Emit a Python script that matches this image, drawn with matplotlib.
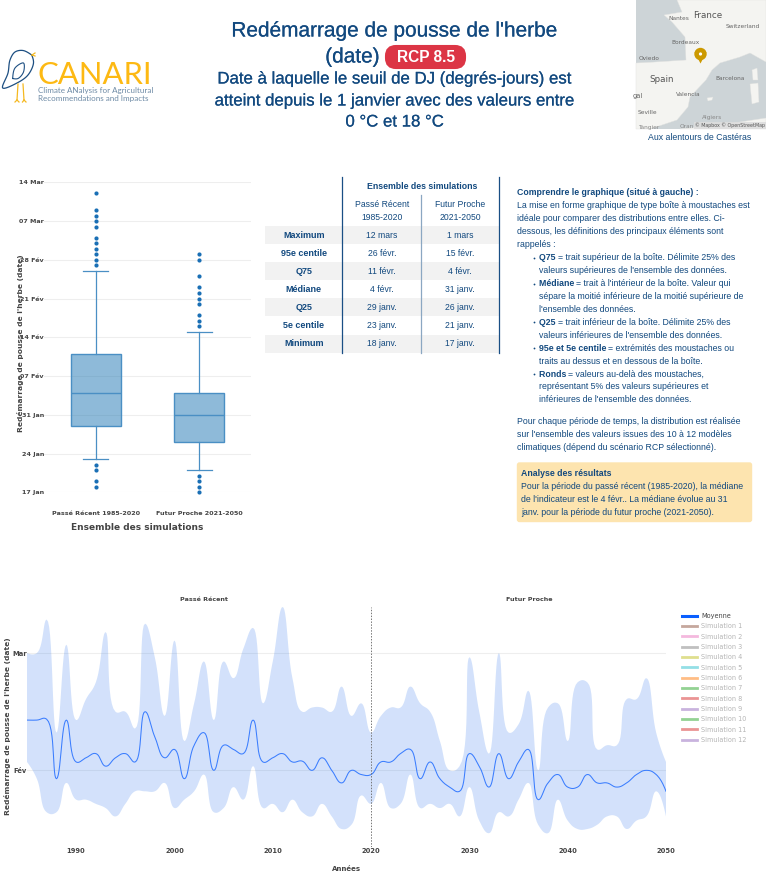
"""Indicator sheet: grass regrowth date, box plot, table, notes and yearly band."""
import numpy as np
import matplotlib
matplotlib.use("Agg")
import matplotlib.pyplot as plt
import matplotlib.patheffects as pe
from matplotlib.patches import FancyBboxPatch, Polygon, Rectangle, Circle
from matplotlib.ticker import FixedLocator, FixedFormatter

W, H = 766, 872
NAVY = "#12497f"
GREY = "#444444"
HTML_FONT = "Liberation Sans"

# box plot, dates as day of year
box_labels = ["Passé Récent 1985-2020", "Futur Proche 2021-2050"]
box_whislo = [23, 21]
box_q1 = [29, 26]
box_med = [35, 31]
box_q3 = [42, 35]
box_whishi = [57, 46]
box_fliers_past = [71, 68, 67, 66, 65, 63, 62, 61, 60, 59, 58, 22, 21, 19, 18]
box_fliers_future = [60, 59, 56, 54, 53, 52, 51, 49, 48, 47, 20, 19, 18, 17]
box_ticks = [17, 24, 31, 38, 45, 52, 59, 66, 73]
box_ticklabels = ["17 Jan", "24 Jan", "31 Jan", "07 Fév", "14 Fév", "21 Fév", "28 Fév", "07 Mar", "14 Mar"]

# table
table_rows = ["Maximum", "95e centile", "Q75", "Médiane", "Q25", "5e centile", "Minimum"]
table_past = ["12 mars", "26 févr.", "11 févr.", "4 févr.", "29 janv.", "23 janv.", "18 janv."]
table_future = ["1 mars", "15 févr.", "4 févr.", "31 janv.", "26 janv.", "21 janv.", "17 janv."]

# yearly series, days counted from 1 February
years = list(range(1985, 2051))
upper_days = [28, 28, 36, 9, 30, 12, 17, 21, 33, 14, 14, 10, 35, 27, 13, 31, 7, 16, 26, 12, 26, 22,
              29, 34, 16, 26, 39, 22, 14, 15, 15, 14, 20, 13, 16, 9, 13, 15, 15, 20, 16, 14, 7, 0,
              1, 27, 14, 4, 28, 9, 11, 19, 0, 15, 16, 7, 21, 21, 5, 6, 6, 17, 17, 22, 9, 2]
lower_days = [2, -2, -10, -10, -3, -7, -7, -8, -9, -11, -8, -5, -5, -5, -3, -9, -7, -5, -1, -10, -9, -4,
              -7, 1, -9, -8, -10, -7, -10, -11, -8, -11, -14, -13, -6, -8, -3, -9, -8, -1, -9, -8, -9, -8,
              -11, -4, -12, -15, -10, -11, -7, -3, -13, -15, -7, -12, -14, -14, -13, -11, -11, -14, -12, -11, -5, -11]
mean_days = [12, 12, 12.2, -2, 12, 2, 3, 4, 1, 3, 4, 2, 14, 8, 3, 5, -2, 6, 9, 0, 6, 5,
             4, 12, 2, 3, 4, 2, 2.2, 0, 3, 0, -3, 0, -1, -1, 2, 2, 4, 5, -2, 2, -2, -4,
             -5, 4, 1, -4, 4, -2, 2, 5, -7, -3, -1, -4, -4, -1, -3, -3, -4, -3, -1, 0, -1, -5]
legend_names = ["Simulation %d" % i for i in range(1, 13)]
legend_colors = ["#c5a79d", "#f4b9de", "#c0c0c0", "#dfdf8e", "#94dfe6", "#ffbd85",
                 "#93d293", "#ea9494", "#c9b3de", "#93d293", "#ea9494", "#c9b3de"]


def spline_curve(xs, ys, sx=1.0, sy=1.0, n=14, smooth=1.3):
    # Catmull-Rom style bezier through the points, worked out in pixel scale
    p = np.column_stack([np.asarray(xs, float) * sx, np.asarray(ys, float) * sy])
    out_cp, in_cp = [None] * len(p), [None] * len(p)
    for i in range(1, len(p) - 1):
        d1 = p[i - 1] - p[i]
        d2 = p[i + 1] - p[i]
        a = np.hypot(*d1) ** 0.5
        b = np.hypot(*d2) ** 0.5
        num = (b * b * d1 - a * a * d2) * smooth
        in_cp[i] = p[i] + num / (3 * b * (a + b))
        out_cp[i] = p[i] - num / (3 * a * (a + b))
    t = np.linspace(0, 1, n)[:, None]
    pts = []
    for i in range(len(p) - 1):
        c1 = out_cp[i] if out_cp[i] is not None else p[i] + (in_cp[i + 1] - p[i]) / 3
        c2 = in_cp[i + 1] if in_cp[i + 1] is not None else p[i + 1] + (c1 - p[i + 1]) / 3
        pts.append((1 - t) ** 3 * p[i] + 3 * (1 - t) ** 2 * t * c1 + 3 * (1 - t) * t ** 2 * c2 + t ** 3 * p[i + 1])
    pts = np.vstack(pts)
    return pts[:, 0] / sx, pts[:, 1] / sy


def px_axes(fig, left, top, right, bottom):
    return fig.add_axes([left / W, 1 - bottom / H, (right - left) / W, (bottom - top) / H])


def rich(pg, x, y, parts, size=6.3, color=NAVY):
    # a line of normal and bold runs, placed one after another
    rend = pg.figure.canvas.get_renderer()
    for s, bold in parts:
        t = pg.text(x, y, s, fontsize=size, color=color, family=HTML_FONT, va="center",
                    fontweight="bold" if bold else "normal")
        x += t.get_window_extent(rend).width


fig = plt.figure(figsize=(W / 100, H / 100), dpi=100)
pg = fig.add_axes([0, 0, 1, 1], zorder=5)
pg.set_xlim(0, W)
pg.set_ylim(H, 0)
pg.axis("off")

# ---- header
semi = [pe.withStroke(linewidth=0.12, foreground=NAVY)]
pg.text(394.5, 31, "Redémarrage de pousse de l'herbe", ha="center", va="center", fontsize=15.0, color=NAVY,
        family=HTML_FONT, path_effects=semi)
pg.text(352.5, 57, "(date)", ha="center", va="center", fontsize=15.0, color=NAVY, family=HTML_FONT, path_effects=semi)
pg.add_patch(FancyBboxPatch((386, 46), 79, 22, boxstyle="round,pad=0,rounding_size=10", mutation_aspect=1,
                            fc="#dc3545", ec="#dc3545", lw=1.5))
pg.text(426, 57.5, "RCP 8.5", ha="center", va="center", fontsize=11.2, color="white", fontweight="bold", family=HTML_FONT)
sub_lines = ["Date à laquelle le seuil de DJ (degrés-jours) est",
             "atteint depuis le 1 janvier avec des valeurs entre", "0 °C et 18 °C"]
for yy, s in zip([79, 101, 122], sub_lines):
    pg.text(394.5, yy, s, ha="center", va="center", fontsize=12.1, color=NAVY, family=HTML_FONT, path_effects=semi)

# ---- logo
bx = [31.7, 23, 15, 10, 8, 2.7, 17, 28, 33.5, 31.7]
by = [55, 50.5, 52, 60, 73, 88, 83, 75, 63, 55]
lx, ly = spline_curve(bx, by, n=10, smooth=1.0)
pg.plot(lx, ly, color="#1d4f82", lw=0.9)
wx = [12.7, 15, 23.5, 23.5, 18, 12.7]
wy = [78.5, 68, 63, 72, 78.5, 78.5]
lx, ly = spline_curve(wx, wy, n=10, smooth=1.0)
pg.plot(lx, ly, color="#1d4f82", lw=0.8)
for xs, ys in [([18, 17], [84, 100]), ([23, 24], [84, 100]), ([17, 15], [100, 102]), ([17, 19], [100, 102]),
               ([24, 22.5], [100, 102]), ([24, 26], [100, 102]), ([32, 35], [55, 53]), ([32, 35], [55, 56])]:
    pg.plot(xs, ys, color="#f5b921", lw=0.9)
pg.text(37.5, 74.5, "CANARI", fontsize=22.3, color="#fdb913", family="Lato", va="center", ha="left")
pg.text(38.5, 90.5, "Climate ANalysis for Agricultural", fontsize=5.8, color="#6d8aa5", family="Lato", va="center")
pg.text(38.5, 98, "Recommendations and Impacts", fontsize=5.8, color="#6d8aa5", family="Lato", va="center")

# ---- small map
pg.add_patch(Rectangle((636, 0), 130, 129, fc="#cdd4d7", ec="none"))
land = [(677, 0), (682, 12), (664, 15), (672, 22), (685, 37), (686, 60), (655, 62), (636, 63), (636, 129),
        (650, 129), (677, 120), (688, 107), (690, 97), (706, 80), (712, 70), (720, 63), (740, 57),
        (750, 53), (766, 62), (766, 0)]
africa = [(680, 129), (720, 125), (766, 118), (766, 129)]
corsica = [(752, 70), (757, 68), (758, 80), (753, 80)]
sardinia = [(750, 84), (758, 83), (759, 102), (752, 104)]
balear = [(707, 98), (713, 97), (712, 100), (708, 101)]
for poly in [land, africa, corsica, sardinia, balear]:
    pg.add_patch(Polygon(poly, fc="#f4f4f1", ec="#e2e2e0", lw=0.3))
for s, xx, yy, fs, col in [("France", 708, 15, 6.3, "#555555"), ("Nantes", 679, 19, 4.2, "#666666"),
                           ("Switzerland", 743, 26, 4.2, "#666666"), ("Bordeaux", 686, 43, 4.2, "#666666"),
                           ("Oviedo", 649, 58, 4.2, "#666666"), ("Spain", 662, 80, 6.3, "#555555"),
                           ("Barcelona", 730, 78, 4.2, "#666666"), ("Valencia", 688, 94, 4.2, "#666666"),
                           ("Seville", 647, 113, 4.2, "#666666"), ("Algiers", 712, 118, 4.2, "#888888"),
                           ("gal", 638, 96, 4.8, "#666666"), ("Tangier", 649, 127, 4.2, "#888888"),
                           ("Oran", 687, 127, 4.2, "#888888")]:
    pg.text(xx, yy, s, fontsize=fs, color=col, ha="center", va="center", family="DejaVu Sans")
pg.add_patch(Rectangle((694, 122), 72, 7, fc="#dddddd", ec="none", alpha=0.9))
pg.text(730, 125.5, "© Mapbox © OpenStreetMap", fontsize=3.4, color="#555555", ha="center", va="center")
pg.add_patch(Polygon([(694.5, 52), (700.5, 63.5), (706.5, 52)], fc="#cc9900", ec="none"))
pg.add_patch(Circle((700.5, 54), 6.2, fc="#cc9900", ec="none"))
pg.add_patch(Circle((700.5, 54), 1.6, fc="white", ec="none"))
pg.text(700, 137, "Aux alentours de Castéras", ha="center", va="center", fontsize=6.3, color=NAVY, family=HTML_FONT)

# ---- box plot
ax1 = px_axes(fig, 44, 182.3, 251, 492.3)
stats = []
for i, fl in enumerate([box_fliers_past, box_fliers_future]):
    stats.append(dict(med=box_med[i], q1=box_q1[i], q3=box_q3[i], whislo=box_whislo[i],
                      whishi=box_whishi[i], fliers=fl, label=box_labels[i]))
line_col = "#4a8fc4"
ax1.bxp(stats, positions=[0, 1], widths=0.486, capwidths=0.24, patch_artist=True, manage_ticks=False,
        boxprops=dict(facecolor="#1f77b480", edgecolor=line_col, lw=1.0),
        medianprops=dict(color="#4a8fc4", lw=1.0),
        whiskerprops=dict(color=line_col, lw=0.9),
        capprops=dict(color=line_col, lw=0.9),
        flierprops=dict(marker="o", markerfacecolor="#1a6fb5", markeredgecolor="none", markersize=3.0, clip_on=False))
ax1.set_xlim(-0.5, 1.5)
ax1.set_ylim(17, 73)
ax1.set_xticks([0, 1])
ax1.set_xticklabels(box_labels, fontsize=4.6, fontweight="bold", color=GREY)
ax1.set_yticks(box_ticks)
ax1.set_yticklabels(box_ticklabels, fontsize=4.6, fontweight="bold", color=GREY)
ax1.tick_params(length=0, axis="y", pad=0)
ax1.tick_params(length=0, axis="x", pad=13.5)
ax1.grid(axis="y", color="#eeeeee", lw=0.8)
ax1.set_axisbelow(True)
for sp in ax1.spines.values():
    sp.set_visible(False)
ax1.set_ylabel("Redémarrage de pousse de l'herbe (date)", fontsize=5.4, fontweight="bold", color=GREY)
ax1.yaxis.set_label_coords(-0.097, 0.48)
ax1.set_xlabel("Ensemble des simulations", fontsize=6.5, fontweight="bold", color=GREY)
ax1.xaxis.set_label_coords(0.451, -0.1)

# ---- table
row_h = 18.1
for i in range(7):
    yc = 226 + row_h * (i + 0.5)
    if i % 2 == 0:
        pg.add_patch(Rectangle((264.7, 226 + row_h * i), 234.6, row_h, fc="#f2f2f2", ec="none", zorder=1))
    pg.text(303.7, yc, table_rows[i], ha="center", va="center", fontsize=6.5, fontweight="bold", color=NAVY, family=HTML_FONT)
    pg.text(382, yc, table_past[i], ha="center", va="center", fontsize=6.2, color=NAVY, family=HTML_FONT)
    pg.text(460, yc, table_future[i], ha="center", va="center", fontsize=6.2, color=NAVY, family=HTML_FONT)
pg.plot([342.3, 342.3], [176.7, 353], color="#1a4f85", lw=0.9)
pg.plot([499.3, 499.3], [176.7, 353], color="#1a4f85", lw=0.9)
pg.plot([421.3, 421.3], [195, 353], color="#8ba7c2", lw=0.9)
pg.text(421.7, 186.7, "Ensemble des simulations", ha="center", va="center", fontsize=6.3, fontweight="bold", color=NAVY, family=HTML_FONT)
for xx, a, b in [(382, "Passé Récent", "1985-2020"), (460, "Futur Proche", "2021-2050")]:
    pg.text(xx, 204.7, a, ha="center", va="center", fontsize=6.2, color=NAVY, family=HTML_FONT)
    pg.text(xx, 217.7, b, ha="center", va="center", fontsize=6.2, color=NAVY, family=HTML_FONT)

# ---- notes
fig.canvas.draw()
notes = [
    (516.7, 192.7, [("Comprendre le graphique (situé à gauche) :", True)]),
    (516.7, 205.7, [("La mise en forme graphique de type boîte à moustaches est", False)]),
    (516.7, 218.7, [("idéale pour comparer des distributions entre elles. Ci-", False)]),
    (516.7, 231.7, [("dessous, les définitions des principaux éléments sont", False)]),
    (516.7, 244.7, [("rappelés :", False)]),
    (538.7, 257.3, [("Q75 ", True), ("= trait supérieur de la boîte. Délimite 25% des", False)]),
    (538.7, 270.3, [("valeurs supérieures de l'ensemble des données.", False)]),
    (538.7, 283.3, [("Médiane ", True), ("= trait à l'intérieur de la boîte. Valeur qui", False)]),
    (538.7, 296.3, [("sépare la moitié inférieure de la moitié supérieure de", False)]),
    (538.7, 309.3, [("l'ensemble des données.", False)]),
    (538.7, 322, [("Q25 ", True), ("= trait inférieur de la boîte. Délimite 25% des", False)]),
    (538.7, 335, [("valeurs inférieures de l'ensemble des données.", False)]),
    (538.7, 348, [("95e et 5e centile ", True), ("= extrémités des moustaches ou", False)]),
    (538.7, 361, [("traits au dessus et en dessous de la boîte.", False)]),
    (538.7, 374, [("Ronds ", True), ("= valeurs au-delà des moustaches,", False)]),
    (538.7, 386.7, [("représentant 5% des valeurs supérieures et", False)]),
    (538.7, 399.7, [("inférieures de l'ensemble des données.", False)]),
    (516.7, 421.3, [("Pour chaque période de temps, la distribution est réalisée", False)]),
    (516.7, 434.3, [("sur l'ensemble des valeurs issues des 10 à 12 modèles", False)]),
    (516.7, 447.3, [("climatiques (dépend du scénario RCP sélectionné).", False)]),
    (521, 473, [("Analyse des résultats", True)]),
    (521, 486, [("Pour la période du passé récent (1985-2020), la médiane", False)]),
    (521, 499, [("de l'indicateur est le 4 févr.. La médiane évolue au 31", False)]),
    (521, 512, [("janv. pour la période du futur proche (2021-2050).", False)]),
]
pg.add_patch(FancyBboxPatch((517.5, 463), 234, 58.5, boxstyle="round,pad=0,rounding_size=2", fc="#fde4af", ec="#fde4af", lw=1, zorder=1))
for xx, yy, parts in notes:
    rich(pg, xx, yy, parts)
for yy in [257.3, 283.3, 322, 348, 374]:
    pg.plot([534], [yy + 0.5], marker="o", ms=1.3, color=NAVY, mec="none")

# ---- yearly band
ax2 = px_axes(fig, 27, 607, 666, 847)
SX, SY = 639 / 65, 240 / 57.3
ux, uy = spline_curve(years, upper_days, SX, SY)
dx, dy = spline_curve(years, lower_days, SX, SY)
mx, my = spline_curve(years, mean_days, SX, SY)
ax2.fill(np.r_[ux, dx[::-1]], np.r_[uy, dy[::-1]], color="#0b5ee9", alpha=0.18, lw=0)
ax2.plot(mx, my, color="#3a7dff", lw=0.75, label="Moyenne")
for name, col in zip(legend_names, legend_colors):
    ax2.plot([], [], color=col, lw=2.0, label=name)
ax2.axvline(2020, color="#777777", lw=0.7, ls=(0, (1.5, 1.5)))
ax2.set_xlim(1985, 2050)
ax2.set_ylim(-18.3, 39)
ax2.xaxis.set_major_locator(FixedLocator(list(range(1990, 2051, 10))))
ax2.xaxis.set_major_formatter(FixedFormatter([str(y) for y in range(1990, 2051, 10)]))
ax2.set_yticks([0, 28])
ax2.set_yticklabels(["Fév", "Mar"])
ax2.tick_params(labelsize=4.9, length=0, labelcolor=GREY)
ax2.tick_params(axis="x", pad=1)
ax2.tick_params(axis="y", pad=0.3)
for lab in ax2.get_xticklabels() + ax2.get_yticklabels():
    lab.set_fontweight("bold")
ax2.grid(axis="y", color="#eeeeee", lw=0.8)
ax2.set_axisbelow(True)
for sp in ax2.spines.values():
    sp.set_visible(False)
ax2.set_ylabel("Redémarrage de pousse de l'herbe (date)", fontsize=5.4, fontweight="bold", color=GREY)
ax2.yaxis.set_label_coords(-0.025, 0.505)
ax2.set_xlabel("Années", fontsize=5.0, fontweight="bold", color=GREY)
ax2.xaxis.set_label_coords(0.5, -0.078)
pg.text(204, 599, "Passé Récent", ha="center", va="center", fontsize=4.6, fontweight="bold", color=GREY)
pg.text(529, 599, "Futur Proche", ha="center", va="center", fontsize=4.6, fontweight="bold", color=GREY)

leg = ax2.legend(loc="upper left", bbox_to_anchor=(682 / W, 1 - 613 / H), bbox_transform=fig.transFigure,
                 frameon=False, fontsize=4.7, handlelength=2.3, handletextpad=0.65, labelspacing=0.665,
                 borderaxespad=0, borderpad=0)
leg.legend_handles[0].set_linewidth(2.2)
leg.legend_handles[0].set_color("#0a5fff")
for i, t in enumerate(leg.get_texts()):
    t.set_color(GREY if i == 0 else "#b5b5b5")

fig.savefig("out.png", dpi=100)
